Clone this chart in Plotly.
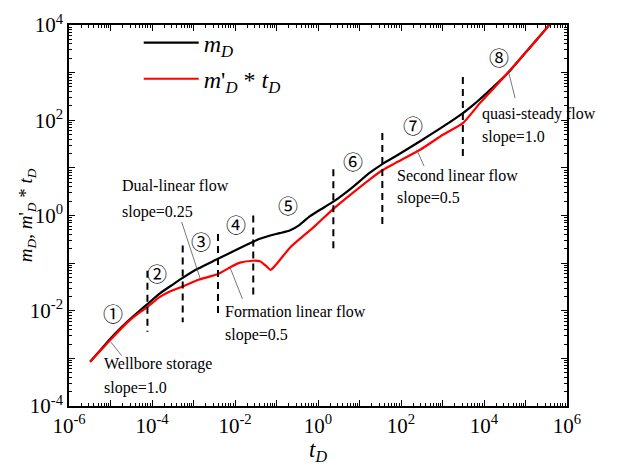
import plotly.graph_objects as go

# ---- data (log10 values) ----
black_logt = [-5.49, -5.20, -4.90, -4.60, -4.30, -4.11, -3.80, -3.50, -3.26, -2.90, -2.41, -1.88,
              -1.56, -1.40, -1.15, -0.92, -0.67, -0.45, -0.20, 0.05, 0.37, 0.80, 1.25, 1.55, 1.86,
              2.46, 3.02, 3.49, 3.75, 3.90, 4.20, 4.55, 4.95, 5.30, 5.60]
black_logm = [-3.07, -2.78, -2.49, -2.23, -2.00, -1.86, -1.63, -1.45, -1.31, -1.12, -0.91, -0.68,
              -0.55, -0.49, -0.42, -0.37, -0.31, -0.20, -0.02, 0.12, 0.29, 0.57, 0.90, 1.08, 1.24,
              1.56, 1.87, 2.15, 2.33, 2.44, 2.68, 2.97, 3.37, 3.72, 4.03]

red_logt = [-5.49, -5.01, -4.60, -4.29, -4.11, -3.81, -3.50, -3.26, -2.88, -2.41, -2.10, -1.88,
            -1.56, -1.40, -1.25, -1.14, -1.00, -0.67, -0.11, 0.37, 0.80, 1.25, 1.55, 1.86, 2.46,
            3.02, 3.49, 3.75, 3.90, 4.20, 4.55, 4.95, 5.30, 5.60]
red_logm = [-3.07, -2.62, -2.25, -2.03, -1.92, -1.71, -1.57, -1.49, -1.35, -1.23, -1.08, -0.99,
            -0.95, -0.96, -1.06, -1.14, -1.02, -0.67, -0.25, 0.14, 0.45, 0.76, 0.95, 1.10, 1.38,
            1.70, 1.94, 2.20, 2.36, 2.64, 2.97, 3.37, 3.72, 4.03]

# regime boundaries (log10 tD) and dashed extents (log10 of y)
bound_logt = [-4.11, -3.26, -2.41, -1.56, 0.37, 1.55, 3.49]
bound_top = [-1.16, -0.63, -0.39, 0.00, 0.97, 1.73, 2.91]
bound_bot = [-2.44, -2.24, -2.06, -1.68, -0.74, -0.25, 1.21]

x_tick_exps = list(range(-6, 7))
y_tick_exps = list(range(-4, 5))

tD_black = [10 ** v for v in black_logt]
mD_black = [10 ** v for v in black_logm]
tD_red = [10 ** v for v in red_logt]
mD_red = [10 ** v for v in red_logm]

FONT = "Liberation Serif, Times New Roman, serif"

fig = go.Figure()
fig.add_trace(go.Scatter(x=tD_black, y=mD_black, mode="lines", legendgroup="a",
                         line=dict(color="black", width=2.2, shape="spline", smoothing=0.6),
                         name="<i>m<sub>D</sub></i>"))
fig.add_trace(go.Scatter(x=tD_red, y=mD_red, mode="lines", legendgroup="b",
                         line=dict(color="#ff0000", width=2.2, shape="spline", smoothing=0.6),
                         name="<i>m</i>'<i><sub>D</sub></i> * <i>t<sub>D</sub></i>"))

for bt, top, bot in zip(bound_logt, bound_top, bound_bot):
    fig.add_trace(go.Scatter(x=[10 ** bt, 10 ** bt], y=[10 ** top, 10 ** bot], mode="lines",
                             line=dict(color="black", width=2, dash="7px,5px"),
                             showlegend=False, hoverinfo="skip"))

annots = []
circles = [("①", -4.94, -2.05), ("②", -3.88, -1.22), ("③", -2.82, -0.55), ("④", -1.98, -0.18),
           ("⑤", -0.72, 0.22), ("⑥", 0.84, 1.14), ("⑦", 2.29, 1.89), ("⑧", 4.36, 3.31)]
for txt, lx, ly in circles:
    annots.append(dict(x=lx, y=ly, xref="x", yref="y", text=txt, showarrow=False,
                       font=dict(family="Noto Sans CJK JP", size=20, color="black")))

labels = [("Dual-linear flow", -4.77, 0.62), ("slope=0.25", -4.77, 0.08),
          ("Wellbore storage", -5.20, -3.12), ("slope=1.0", -5.20, -3.62),
          ("Formation linear flow", -2.29, -2.02), ("slope=0.5", -2.29, -2.51),
          ("Second linear flow", 1.86, 0.85), ("slope=0.5", 1.86, 0.36),
          ("quasi-steady flow", 3.90, 2.14), ("slope=1.0", 3.90, 1.64)]
for txt, lx, ly in labels:
    annots.append(dict(x=lx, y=ly, xref="x", yref="y", text=txt, showarrow=False, xanchor="left",
                       font=dict(family=FONT, size=16, color="black")))

leaders = [(-4.99, -2.66, 12, 15), (-2.84, -1.32, -19, -58), (-2.12, -1.09, 13, 33),
           (2.38, 1.38, 8, 18), (4.59, 3.02, 7, 28)]
for lx, ly, ax, ay in leaders:
    annots.append(dict(x=lx, y=ly, xref="x", yref="y", text="", showarrow=True, arrowhead=0,
                       ax=ax, ay=ay, axref="pixel", ayref="pixel", arrowwidth=0.8,
                       arrowcolor="#555555", standoff=0, startstandoff=0))

# axis titles
annots.append(dict(x=0.5, y=-0.118, xref="paper", yref="paper", showarrow=False,
                   text="<i>t<sub>D</sub></i>", yanchor="middle",
                   font=dict(family=FONT, size=23, color="black")))
annots.append(dict(x=-0.085, y=0.5, xref="paper", yref="paper", showarrow=False, textangle=-90,
                   text="<i>m<sub>D</sub></i>, <i>m</i>'<i><sub>D</sub></i> * <i>t<sub>D</sub></i>",
                   xanchor="center", yanchor="middle",
                   font=dict(family=FONT, size=19, color="black")))

fig.update_layout(
    width=610, height=459,
    margin=dict(l=61, r=51, t=15, b=61),
    paper_bgcolor="white", plot_bgcolor="white",
    font=dict(family=FONT, color="black"),
    showlegend=True,
    legend=dict(x=0.14, y=1.012, xanchor="left", yanchor="top", bgcolor="rgba(0,0,0,0)",
                font=dict(family=FONT, size=24, color="black"), itemwidth=55,
                tracegroupgap=2),
    annotations=annots,
)

minor_x = [m * 10 ** k for k in range(-6, 6) for m in range(2, 10)]
minor_y = [m * 10 ** k for k in range(-4, 4) for m in range(2, 10)]

fig.update_xaxes(type="log", range=[-6, 6], tickmode="array",
                 tickvals=[10 ** k for k in x_tick_exps],
                 ticktext=[f"10<sup>{k}</sup>" if k % 2 == 0 else "" for k in x_tick_exps],
                 ticks="inside", ticklen=6, tickwidth=1.2, tickcolor="black",
                 showline=True, linecolor="black", linewidth=1.5, mirror="ticks",
                 showgrid=False, zeroline=False, automargin=False,
                 tickfont=dict(family=FONT, size=21, color="black"),
                 minor=dict(tickvals=minor_x, ticks="inside", ticklen=3, tickwidth=1,
                            tickcolor="black", showgrid=False))
fig.update_yaxes(type="log", range=[-4, 4], tickmode="array",
                 tickvals=[10 ** k for k in y_tick_exps],
                 ticktext=[f"10<sup>{k}</sup>" if k % 2 == 0 else "" for k in y_tick_exps],
                 ticks="inside", ticklen=6, tickwidth=1.2, tickcolor="black",
                 showline=True, linecolor="black", linewidth=1.5, mirror="ticks",
                 showgrid=False, zeroline=False, automargin=False,
                 tickfont=dict(family=FONT, size=21, color="black"),
                 minor=dict(tickvals=minor_y, ticks="inside", ticklen=3, tickwidth=1,
                            tickcolor="black", showgrid=False))

fig.write_html("out.html")
